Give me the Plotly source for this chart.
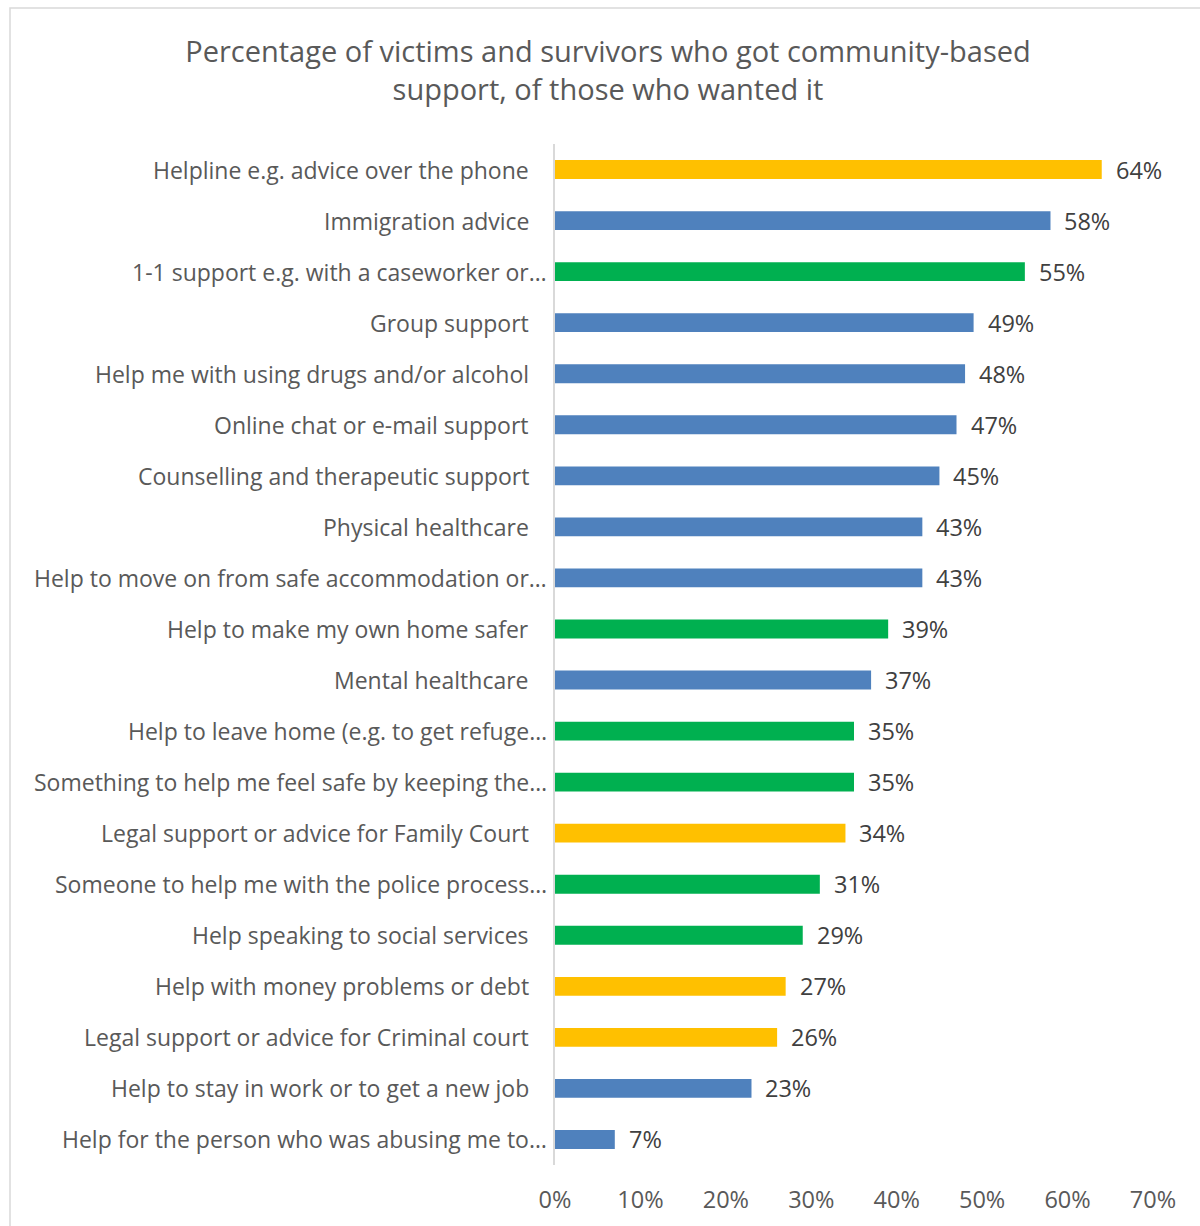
import plotly.graph_objects as go

# Support types, listed top to bottom as drawn
categories = [
    "Helpline e.g. advice over the phone",
    "Immigration advice",
    "1-1 support e.g. with a caseworker or…",
    "Group support",
    "Help me with using drugs and/or alcohol",
    "Online chat or e-mail support",
    "Counselling and therapeutic support",
    "Physical healthcare",
    "Help to move on from safe accommodation or…",
    "Help to make my own home safer",
    "Mental healthcare",
    "Help to leave home (e.g. to get refuge…",
    "Something to help me feel safe by keeping the…",
    "Legal support or advice for Family Court",
    "Someone to help me with the police process…",
    "Help speaking to social services",
    "Help with money problems or debt",
    "Legal support or advice for Criminal court",
    "Help to stay in work or to get a new job",
    "Help for the person who was abusing me to…",
]

# Percentage who got the support, of those who wanted it
values = [64, 58, 55, 49, 48, 47, 45, 43, 43, 39, 37, 35, 35, 34, 31, 29, 27, 26, 23, 7]

# Colour group for each bar
groups = [
    "yellow", "blue", "green", "blue", "blue", "blue", "blue", "blue", "blue", "green",
    "blue", "green", "green", "yellow", "green", "green", "yellow", "yellow", "blue", "blue",
]

tick_values = [0, 0.1, 0.2, 0.3, 0.4, 0.5, 0.6, 0.7]
tick_labels = ["0%", "10%", "20%", "30%", "40%", "50%", "60%", "70%"]

title_text = ("Percentage of victims and survivors who got community-based<br>"
              "support, of those who wanted it")

palette = {"yellow": "#FFC000", "blue": "#4F81BD", "green": "#00B050"}
FONT = "Open Sans, Noto Sans, sans-serif"
TEXT = "#595959"

fractions = [v / 100 for v in values]

fig = go.Figure(
    go.Bar(
        x=fractions,
        y=categories,
        orientation="h",
        marker=dict(color=[palette[g] for g in groups], line=dict(width=0)),
        hoverinfo="skip",
    )
)

annotations = []
# Category labels to the left of the axis
for cat in categories:
    annotations.append(dict(
        x=0, y=cat, xref="x", yref="y",
        text=cat, showarrow=False,
        xanchor="right", yanchor="middle",
        xshift=-6 if cat.endswith("…") else -24,
        font=dict(family=FONT, size=23, color=TEXT),
    ))
# Value labels at the end of each bar
for cat, v, f in zip(categories, values, fractions):
    annotations.append(dict(
        x=f, y=cat, xref="x", yref="y",
        text=f"{v}%", showarrow=False,
        xanchor="left", yanchor="middle", xshift=12,
        font=dict(family=FONT, size=23.5, color="#404040"),
    ))

L, R, T, B = 555, 47, 144, 61
W, H = 1200, 1226
pw, ph = W - L - R, H - T - B

fig.update_layout(
    width=W, height=H,
    margin=dict(l=L, r=R, t=T, b=B),
    paper_bgcolor="white", plot_bgcolor="white",
    showlegend=False,
    bargap=0.63,
    title=dict(
        text=title_text, x=608 / W, xanchor="center", y=1 - 62 / H, yanchor="middle",
        font=dict(family=FONT, size=29, color=TEXT),
    ),
    xaxis=dict(
        range=[0, 0.7], tickvals=tick_values, ticktext=tick_labels,
        showgrid=False, zeroline=False, showline=False, ticks="",
        ticklabelstandoff=18,
        tickfont=dict(family=FONT, size=23.5, color=TEXT),
        fixedrange=True,
    ),
    yaxis=dict(
        autorange="reversed", showticklabels=False, ticks="",
        showgrid=False, zeroline=False,
        showline=True, linecolor="#D9D9D9", linewidth=2,
        fixedrange=True,
    ),
    annotations=annotations,
    shapes=[dict(
        type="rect", xref="paper", yref="paper",
        x0=(10 - L) / pw, x1=(1210 - L) / pw,
        y0=(H - B - 1240) / ph, y1=1 + (T - 8) / ph,
        line=dict(color="#D9D9D9", width=1.5), fillcolor="rgba(0,0,0,0)",
        layer="below",
    )],
)

fig.write_html("out.html")
